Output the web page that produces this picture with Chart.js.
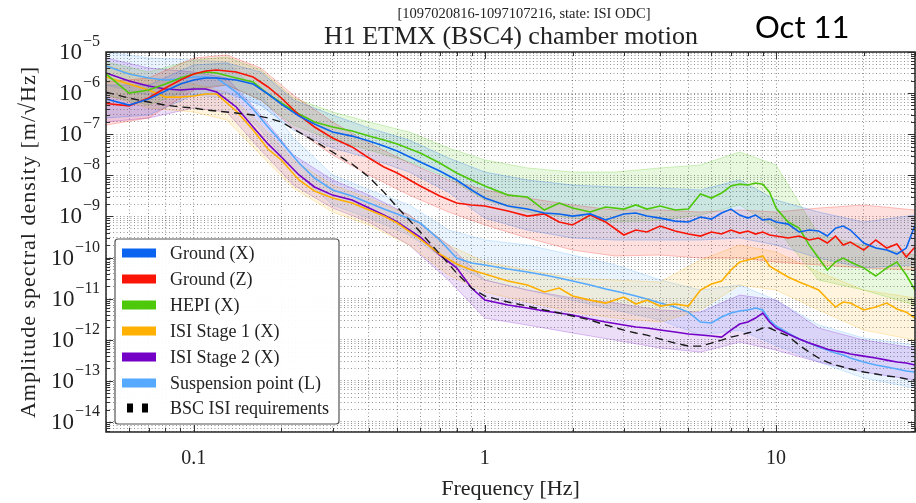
<!DOCTYPE html>
<html>
<head>
<meta charset="utf-8">
<script src="https://cdn.jsdelivr.net/npm/chart.js@4.4.1/dist/chart.umd.min.js"></script>
<style>
  html, body { margin: 0; padding: 0; background: #fff; }
  canvas { display: block; }
</style>
</head>
<body>
<canvas id="asdChart" width="916" height="503"></canvas>
<script>
// frequency grid of the median curves [Hz]
const freqs = [0.05, 0.06, 0.07, 0.08, 0.09, 0.1, 0.11, 0.12, 0.14, 0.16, 0.18, 0.2, 0.23, 0.26, 0.3, 0.35, 0.4, 0.45, 0.5, 0.6,
  0.7, 0.8, 0.9, 1.0, 1.2, 1.4, 1.6, 1.8, 2.0, 2.3, 2.6, 3.0, 3.3, 3.6, 4.0, 4.5, 5.0, 5.5, 6.0, 6.5,
  7.0, 7.5, 8.0, 8.5, 9.0, 9.5, 10, 11, 12, 13, 14, 15, 16, 17, 18, 20, 22, 24, 26, 28, 30];

// median ASD, m/rtHz
const groundX = [7.2e-7, 5.1e-7, 7.2e-7, 1.12e-6, 1.66e-6, 2.08e-6, 2.33e-6, 2.33e-6, 2.08e-6, 1.66e-6,
  9.5e-7, 5.4e-7, 2.77e-7, 1.77e-7, 1.13e-7, 9.0e-8, 6.8e-8, 5.2e-8, 3.9e-8, 2.11e-8,
  1.27e-8, 7.7e-9, 4.4e-9, 2.8e-9, 1.79e-9, 1.51e-9, 1.21e-9, 1.15e-9, 1.02e-9, 1.15e-9,
  8.2e-10, 1.15e-9, 1.21e-9, 1.02e-9, 9.1e-10, 7.7e-10, 7.3e-10, 9.7e-10, 8.6e-10, 1.21e-9,
  1.51e-9, 1.08e-9, 9.1e-10, 1.08e-9, 8.2e-10, 8.6e-10, 7.3e-10, 6.5e-10, 4.18e-10, 4.67e-10,
  4.42e-10, 3.33e-10, 5.2e-10, 5.85e-10, 4.67e-10, 2.25e-10, 1.7e-10, 1.52e-10, 1.22e-10, 1.7e-10, 6.2e-10];
const groundZ = [5.6e-7, 4.9e-7, 7.6e-7, 1.33e-6, 2.08e-6, 2.92e-6, 3.45e-6, 3.65e-6, 3.26e-6, 2.47e-6,
  1.41e-6, 7.6e-7, 2.93e-7, 1.5e-7, 8.1e-8, 4.9e-8, 2.64e-8, 1.59e-8, 1.14e-8, 5.5e-9,
  3.13e-9, 2.12e-9, 1.9e-9, 1.79e-9, 1.36e-9, 1.02e-9, 1.15e-9, 7.3e-10, 6.2e-10, 1.08e-9,
  7.3e-10, 3.53e-10, 4.67e-10, 4.18e-10, 5.85e-10, 4.42e-10, 3.73e-10, 3.33e-10, 4.18e-10, 3.73e-10,
  4.67e-10, 3.94e-10, 4.42e-10, 3.73e-10, 4.18e-10, 3.53e-10, 3.33e-10, 2.99e-10, 3.33e-10, 2.67e-10,
  2.99e-10, 2.25e-10, 3.33e-10, 2.01e-10, 2.38e-10, 1.52e-10, 2.67e-10, 1.7e-10, 2.13e-10, 1.03e-10, 1.8e-10];
const hepiX = [2.92e-6, 1.0e-6, 1.19e-6, 1.66e-6, 2.33e-6, 2.92e-6, 3.26e-6, 3.08e-6, 2.33e-6, 1.86e-6,
  9.5e-7, 5.74e-7, 3.1e-7, 1.98e-7, 1.5e-7, 1.2e-7, 9.0e-8, 7.2e-8, 5.8e-8, 3.5e-8,
  1.99e-8, 1.14e-8, 7.7e-9, 5.5e-9, 3.3e-9, 2.96e-9, 1.43e-9, 2.12e-9, 1.6e-9, 1.28e-9,
  1.69e-9, 1.51e-9, 1.9e-9, 1.51e-9, 1.79e-9, 1.43e-9, 1.51e-9, 3.5e-9, 2.8e-9, 3.7e-9,
  5.5e-9, 6.1e-9, 5.8e-9, 6.5e-9, 6.1e-9, 3.9e-9, 1.6e-9, 7.3e-10, 5.2e-10, 2.01e-10,
  9.7e-11, 4.97e-11, 7.8e-11, 9.7e-11, 7.8e-11, 5.6e-11, 3.55e-11, 5.6e-11, 7.8e-11, 3.75e-11, 1.62e-11];
const isiStage1 = [2.47e-6, 1.66e-6, 1.19e-6, 8.0e-7, 8.0e-7, 8.5e-7, 9.5e-7, 9.5e-7, 3.67e-7, 1.26e-7,
  4.37e-8, 2.36e-8, 7.7e-9, 4.15e-9, 2.8e-9, 2.12e-9, 1.43e-9, 1.02e-9, 6.9e-10, 2.82e-10,
  1.22e-10, 6.95e-11, 4.97e-11, 3.97e-11, 2.68e-11, 2.14e-11, 1.45e-11, 1.81e-11, 1.16e-11, 9.2e-12,
  7.8e-12, 1.09e-11, 7.4e-12, 9.2e-12, 6.6e-12, 7.4e-12, 6.6e-12, 1.62e-11, 2.26e-11, 2.68e-11,
  4.97e-11, 7.8e-11, 8.7e-11, 9.7e-11, 1.09e-10, 6.2e-11, 4.97e-11, 3.36e-11, 2.54e-11, 2.03e-11,
  1.62e-11, 9.8e-12, 6.25e-12, 8.3e-12, 7.8e-12, 5.3e-12, 6.25e-12, 7.8e-12, 5.6e-12, 4.7e-12, 3.37e-12];
const isiStage2 = [3.08e-6, 1.97e-6, 1.49e-6, 1.26e-6, 1.19e-6, 1.26e-6, 1.26e-6, 1.06e-6, 4.6e-7, 1.5e-7,
  5.8e-8, 2.79e-8, 1.02e-8, 5.2e-9, 3.3e-9, 2.5e-9, 1.6e-9, 1.08e-9, 7.3e-10, 3.15e-10,
  1.15e-10, 5.6e-11, 1.81e-11, 9.2e-12, 7.0e-12, 5.9e-12, 5.0e-12, 4.47e-12, 3.99e-12, 3.19e-12,
  2.7e-12, 2.28e-12, 2.04e-12, 1.93e-12, 1.72e-12, 1.54e-12, 1.38e-12, 1.3e-12, 1.23e-12, 1.16e-12,
  1.72e-12, 2.41e-12, 2.7e-12, 3.37e-12, 4.47e-12, 2.7e-12, 1.93e-12, 1.38e-12, 1.04e-12, 8.3e-13,
  7.0e-13, 5.9e-13, 5.3e-13, 5.0e-13, 4.5e-13, 4.0e-13, 3.6e-13, 3.2e-13, 2.87e-13, 2.71e-13, 2.43e-13];
const suspPoint = [4.56e-6, 2.92e-6, 2.33e-6, 2.08e-6, 2.2e-6, 2.47e-6, 2.47e-6, 2.33e-6, 1.06e-6, 4.1e-7,
  1.5e-7, 6.46e-8, 1.99e-8, 8.6e-9, 4.4e-9, 3.13e-9, 2.12e-9, 1.51e-9, 1.15e-9, 6.9e-10,
  2.67e-10, 9.7e-11, 7.35e-11, 6.6e-11, 5.25e-11, 4.44e-11, 3.75e-11, 3.17e-11, 2.68e-11, 2.14e-11,
  1.71e-11, 1.37e-11, 1.16e-11, 9.8e-12, 7.8e-12, 6.25e-12, 4.7e-12, 2.7e-12, 2.55e-12, 3.57e-12,
  4.47e-12, 5.0e-12, 5.3e-12, 5.9e-12, 5.3e-12, 3.02e-12, 2.16e-12, 1.46e-12, 1.04e-12, 8.3e-13,
  6.65e-13, 5.6e-13, 4.75e-13, 4.25e-13, 3.6e-13, 2.87e-13, 2.43e-13, 2.17e-13, 1.94e-13, 1.73e-13, 1.64e-13];
const bscReq = [1.06e-6, 7.6e-7, 6.07e-7, 5.1e-7, 4.6e-7, 4.35e-7, 3.88e-7, 3.67e-7, 3.28e-7, 2.93e-7,
  2.48e-7, 1.98e-7, 1.13e-7, 6.8e-8, 3.69e-8, 1.88e-8, 9.1e-9, 3.9e-9, 1.69e-9, 4.18e-10,
  1.22e-10, 4.2e-11, 1.81e-11, 1.16e-11, 8.3e-12, 6.6e-12, 5.3e-12, 4.47e-12, 3.78e-12, 3.02e-12,
  2.28e-12, 1.72e-12, 1.46e-12, 1.3e-12, 1.04e-12, 8.3e-13, 7.0e-13, 7.0e-13, 8.3e-13, 9.8e-13,
  1.16e-12, 1.3e-12, 1.46e-12, 1.63e-12, 1.93e-12, 1.93e-12, 1.63e-12, 1.23e-12, 7.4e-13, 5.0e-13,
  3.6e-13, 2.87e-13, 2.43e-13, 2.17e-13, 1.94e-13, 1.64e-13, 1.47e-13, 1.31e-13, 1.24e-13, 1.11e-13, 1.05e-13];

// percentile bands (coarser grid)
const bandFreqs = [0.05, 0.07, 0.1, 0.13, 0.17, 0.22, 0.3, 0.4, 0.55, 0.75, 1, 1.4, 2, 2.8, 4, 5.5, 7.5, 10, 14, 20, 30];
const groundXHi = [1.57e-6, 1.57e-6, 4.83e-6, 5.4e-6, 3.26e-6, 6.8e-7, 2.93e-7, 1.42e-7, 7.2e-8, 2.64e-8, 1.2e-8, 7.7e-9, 5.8e-9, 5.2e-9, 4.9e-9, 4.4e-9, 7.7e-9, 2.5e-9, 1.28e-9, 7.3e-10, 1.08e-9];
const groundXLo = [2.48e-7, 2.93e-7, 9.0e-7, 1.0e-6, 5.1e-7, 1.26e-7, 4.6e-8, 2.64e-8, 1.2e-8, 3.9e-9, 9.1e-10, 4.67e-10, 2.99e-10, 2.67e-10, 2.67e-10, 2.67e-10, 2.99e-10, 2.01e-10, 9.7e-11, 5.6e-11, 6.6e-11];
const groundZHi = [1.86e-6, 2.33e-6, 7.14e-6, 8.45e-6, 4.08e-6, 9.0e-7, 1.98e-7, 6.1e-8, 1.99e-8, 7.7e-9, 4.4e-9, 2.8e-9, 1.9e-9, 1.43e-9, 1.43e-9, 1.28e-9, 1.43e-9, 1.28e-9, 1.6e-9, 1.9e-9, 1.43e-9];
const groundZLo = [1.67e-7, 2.48e-7, 1.19e-6, 1.57e-6, 6.8e-7, 1.42e-7, 3.12e-8, 1.02e-8, 3.3e-9, 1.28e-9, 6.2e-10, 2.99e-10, 1.52e-10, 1.09e-10, 1.15e-10, 9.7e-11, 9.7e-11, 7.8e-11, 6.6e-11, 5.6e-11, 4.97e-11];
const hepiXHi = [5.71e-6, 3.26e-6, 6.38e-6, 7.55e-6, 3.65e-6, 7.6e-7, 3.47e-7, 1.98e-7, 1.13e-7, 4.6e-8, 2.36e-8, 1.51e-8, 1.2e-8, 1.2e-8, 1.51e-8, 1.78e-8, 3.69e-8, 1.78e-8, 3.53e-10, 2.01e-10, 1.15e-10];
const hepiXLo = [9.0e-7, 5.1e-7, 1.33e-6, 1.57e-6, 6.8e-7, 1.67e-7, 7.2e-8, 4.13e-8, 2.11e-8, 8.6e-9, 2.5e-9, 1.28e-9, 9.1e-10, 7.3e-10, 8.2e-10, 1.08e-9, 1.9e-9, 5.2e-10, 2.84e-11, 1.62e-11, 7.0e-12];
const isiStage1Hi = [4.83e-6, 2.33e-6, 1.66e-6, 1.06e-6, 1.67e-7, 2.36e-8, 5.8e-9, 2.8e-9, 1.08e-9, 2.01e-10, 7.8e-11, 4.97e-11, 3.17e-11, 2.84e-11, 2.54e-11, 8.7e-11, 2.01e-10, 1.36e-10, 4.44e-11, 1.62e-11, 1.04e-11];
const isiStage1Lo = [9.0e-7, 4.35e-7, 3.47e-7, 2.22e-7, 3.12e-8, 4.9e-9, 1.28e-9, 6.2e-10, 2.01e-10, 3.75e-11, 1.45e-11, 8.3e-12, 4.7e-12, 3.37e-12, 2.7e-12, 5.3e-12, 2.14e-11, 1.62e-11, 5.3e-12, 1.72e-12, 9.8e-13];
const isiStage2Hi = [7.14e-6, 4.08e-6, 3.26e-6, 2.33e-6, 2.93e-7, 3.12e-8, 7.7e-9, 3.3e-9, 1.08e-9, 2.01e-10, 2.84e-11, 1.62e-11, 1.04e-11, 7.8e-12, 5.3e-12, 4.7e-12, 1.22e-11, 9.2e-12, 1.93e-12, 9.8e-13, 6.3e-13];
const isiStage2Lo = [1.98e-7, 2.48e-7, 4.35e-7, 3.47e-7, 4.13e-8, 5.8e-9, 1.6e-9, 7.3e-10, 2.01e-10, 2.84e-11, 3.37e-12, 2.28e-12, 1.46e-12, 9.8e-13, 6.3e-13, 5.0e-13, 8.8e-13, 5.6e-13, 2.87e-13, 1.64e-13, 1.05e-13];
const suspPointHi = [1.0e-5, 7.14e-6, 6.38e-6, 5.71e-6, 9.0e-7, 8.1e-8, 1.02e-8, 4.4e-9, 1.9e-9, 4.67e-10, 2.67e-10, 2.01e-10, 1.15e-10, 6.6e-11, 2.84e-11, 1.62e-11, 2.14e-11, 9.2e-12, 2.28e-12, 1.1e-12, 7.4e-13];
const suspPointLo = [1.57e-6, 9.0e-7, 9.0e-7, 7.6e-7, 1.26e-7, 1.35e-8, 1.9e-9, 9.1e-10, 3.53e-10, 7.8e-11, 2.84e-11, 1.62e-11, 9.2e-12, 5.3e-12, 3.02e-12, 1.3e-12, 1.72e-12, 7.4e-13, 2.87e-13, 1.17e-13, 6.7e-14];

const seriesNames = ['Ground (X)', 'Ground (Z)', 'HEPI (X)', 'ISI Stage 1 (X)', 'ISI Stage 2 (X)', 'Suspension point (L)'];
const seriesColors = ['#0a64f0', '#fa1405', '#4ec80a', '#ffb000', '#7400c8', '#55aaff'];
const reqName = 'BSC ISI requirements';

const xTickValues = [0.1, 1, 10];
const xTickLabels = ['0.1', '1', '10'];
const yTickExponents = [-5, -6, -7, -8, -9, -10, -11, -12, -13, -14];

const X_MIN = 0.05, X_MAX = 30;
const Y_MIN = 5.7e-15, Y_MAX = 1e-5;

const medians = [groundX, groundZ, hepiX, isiStage1, isiStage2, suspPoint];
const bandsHi = [groundXHi, groundZHi, hepiXHi, isiStage1Hi, isiStage2Hi, suspPointHi];
const bandsLo = [groundXLo, groundZLo, hepiXLo, isiStage1Lo, isiStage2Lo, suspPointLo];

function toPoints(xs, ys) {
    return xs.map((x, i) => ({ x: x, y: ys[i] }));
}

function withAlpha(hex, a) {
    const n = parseInt(hex.slice(1), 16);
    return `rgba(${n >> 16}, ${(n >> 8) & 255}, ${n & 255}, ${a})`;
}

function isDecade(v) {
    const l = Math.log10(v);
    return Math.abs(l - Math.round(l)) < 1e-6;
}

// log grid: 1..9 x 10^n inside the range
function logGrid(min, max) {
    const out = [];
    for (let e = Math.floor(Math.log10(min)); e <= Math.ceil(Math.log10(max)); e++) {
        for (let m = 1; m < 10; m++) {
            const v = m * Math.pow(10, e);
            if (v >= min * 0.9999 && v <= max * 1.0001) out.push(v);
        }
    }
    return out;
}

const datasets = [];
seriesNames.forEach((name, i) => {
    datasets.push({
        label: name + ' upper', data: toPoints(bandFreqs, bandsHi[i]),
        borderColor: withAlpha(seriesColors[i], 0.25), borderWidth: 1, fill: false, order: 10
    });
    datasets.push({
        label: name + ' lower', data: toPoints(bandFreqs, bandsLo[i]),
        borderColor: withAlpha(seriesColors[i], 0.25), borderWidth: 1,
        backgroundColor: withAlpha(seriesColors[i], 0.13), fill: '-1', order: 10
    });
});
seriesNames.forEach((name, i) => {
    datasets.push({
        label: name, data: toPoints(freqs, medians[i]),
        borderColor: seriesColors[i], borderWidth: 1.6, fill: false, order: 2
    });
});
datasets.push({
    label: reqName, data: toPoints(freqs, bscReq),
    borderColor: '#1a1a1a', borderWidth: 1.4, borderDash: [8, 5], fill: false, order: 1
});

const SERIF = '"Liberation Serif", "DejaVu Serif", serif';

const chartDecor = {
    id: 'chartDecor',
    afterDraw(chart) {
        const c = chart.ctx;
        const area = chart.chartArea;
        const xs = chart.scales.x;
        const ys = chart.scales.y;
        c.save();

        // inward tick marks on all four sides
        c.strokeStyle = '#333';
        c.lineWidth = 1;
        c.beginPath();
        xs.ticks.forEach(t => {
            const px = Math.round(xs.getPixelForValue(t.value)) + 0.5;
            const len = isDecade(t.value) ? 7 : 4;
            c.moveTo(px, area.bottom); c.lineTo(px, area.bottom - len);
            c.moveTo(px, area.top); c.lineTo(px, area.top + len);
        });
        ys.ticks.forEach(t => {
            const py = Math.round(ys.getPixelForValue(t.value)) + 0.5;
            const len = isDecade(t.value) ? 7 : 4;
            c.moveTo(area.left, py); c.lineTo(area.left + len, py);
            c.moveTo(area.right, py); c.lineTo(area.right - len, py);
        });
        c.stroke();

        // legend box
        const lx = 115, ly = 239, lw = 224, lh = 185;
        c.beginPath();
        if (c.roundRect) c.roundRect(lx, ly, lw, lh, 3); else c.rect(lx, ly, lw, lh);
        c.fillStyle = 'rgba(255,255,255,0.95)';
        c.fill();
        c.strokeStyle = '#555';
        c.lineWidth = 1.2;
        c.stroke();
        c.font = '18px ' + SERIF;
        c.textAlign = 'left';
        c.textBaseline = 'alphabetic';
        seriesNames.forEach((name, i) => {
            const ry = 253 + i * 26;
            c.fillStyle = seriesColors[i];
            c.fillRect(122, ry - 4.5, 34, 9);
            c.fillStyle = '#222';
            c.fillText(name, 170, ry + 6);
        });
        const ry = 253 + 6 * 26 - 1;
        c.fillStyle = '#000';
        c.fillRect(127, ry - 4.5, 6, 9);
        c.fillRect(142, ry - 4.5, 6, 9);
        c.fillStyle = '#222';
        c.fillText(reqName, 170, ry + 6);

        // frame
        c.strokeStyle = '#262626';
        c.lineWidth = 1.5;
        c.strokeRect(area.left, area.top, area.right - area.left, area.bottom - area.top);

        // x tick labels
        c.fillStyle = '#222';
        c.font = '20px ' + SERIF;
        c.textAlign = 'center';
        xTickValues.forEach((v, i) => c.fillText(xTickLabels[i], xs.getPixelForValue(v), 464));

        // y tick labels: 10 with superscript exponent
        yTickExponents.forEach(e => {
            const py = ys.getPixelForValue(Math.pow(10, e));
            const sup = '\u2212' + Math.abs(e);
            c.font = '16px ' + SERIF;
            const w = c.measureText(sup).width;
            c.textAlign = 'left';
            c.fillText(sup, 100 - w, py - 6);
            c.font = '23px ' + SERIF;
            c.textAlign = 'right';
            c.fillText('10', 99 - w, py + 7);
        });

        // axis titles
        c.textAlign = 'center';
        c.font = '22px ' + SERIF;
        c.fillText('Frequency [Hz]', (area.left + area.right) / 2, 495);
        c.save();
        c.translate(35, (area.top + area.bottom) / 2);
        c.rotate(-Math.PI / 2);
        if ('letterSpacing' in c) c.letterSpacing = '1px';
        c.fillText('Amplitude spectral density [m/\u221AHz]', 0, 0);
        c.restore();

        // titles
        c.font = '26px ' + SERIF;
        c.fillText('H1 ETMX (BSC4) chamber motion', 511, 44);
        c.font = '14.5px ' + SERIF;
        c.fillText('[1097020816-1097107216, state: ISI ODC]', 524, 18);
        c.font = '31px Lato, "Open Sans", sans-serif';
        c.textAlign = 'left';
        c.fillStyle = '#000';
        c.fillText('Oct 11', 755, 38);

        c.restore();
    }
};

const ctx = document.getElementById('asdChart').getContext('2d');
const asdChart = new Chart(ctx, {
    type: 'line',
    data: { datasets: datasets },
    options: {
        responsive: false,
        animation: false,
        devicePixelRatio: 1,
        layout: { padding: { top: 52, right: 1, bottom: 0, left: 0 } },
        elements: {
            line: { tension: 0 },
            point: { radius: 0, hoverRadius: 0 }
        },
        plugins: {
            legend: { display: false },
            tooltip: { enabled: false },
            title: { display: false }
        },
        scales: {
            x: {
                type: 'logarithmic',
                min: X_MIN,
                max: X_MAX,
                afterFit: function (scale) { scale.height = 71; },
                afterBuildTicks: function (scale) {
                    scale.ticks = logGrid(X_MIN, X_MAX).map(v => ({ value: v }));
                },
                ticks: { display: false },
                grid: { color: 'rgba(0,0,0,0.42)', lineWidth: 1, drawTicks: false },
                border: { display: false, dash: [1, 2.5] }
            },
            y: {
                type: 'logarithmic',
                min: Y_MIN,
                max: Y_MAX,
                afterFit: function (scale) { scale.width = 106; },
                afterBuildTicks: function (scale) {
                    scale.ticks = logGrid(Y_MIN, Y_MAX).map(v => ({ value: v }));
                },
                ticks: { display: false },
                grid: { color: 'rgba(0,0,0,0.42)', lineWidth: 1, drawTicks: false },
                border: { display: false, dash: [1, 2.5] }
            }
        }
    },
    plugins: [chartDecor]
});
</script>
</body>
</html>
